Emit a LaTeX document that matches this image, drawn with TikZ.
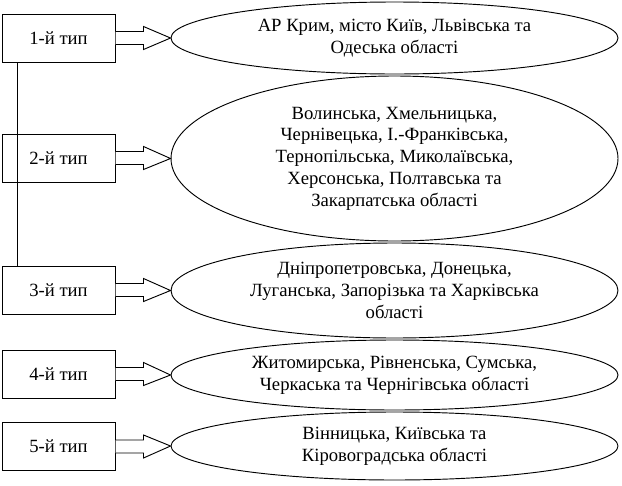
\documentclass[tikz,border=0pt]{standalone}
\usepackage{fontspec}
\setmainfont{Liberation Serif}
\usepackage{tikz}
\usetikzlibrary{calc,shapes.geometric}

\tikzset{
  typebox/.style={draw, line width=0.75pt, minimum width=113*0.75pt, minimum height=48*0.75pt, inner sep=0pt},
  regoval/.style={draw, ellipse, line width=0.7pt, inner sep=0pt, align=center, minimum width=447*0.75pt},
  blockarr/.style={draw, line width=0.7pt, fill=white}
}

\begin{document}
\begin{tikzpicture}[x=0.75pt,y=-0.75pt, font=\fontsize{14}{16.3}\selectfont]
\useasboundingbox (0,0) rectangle (622,486);
% types
\node [typebox] (t1) at (58.5,38) {1-й тип};
\node [typebox] (t2) at (58.5,158) {2-й тип};
\node [typebox] (t3) at (58.5,290) {3-й тип};
\node [typebox] (t4) at (58.5,374) {4-й тип};
\node [typebox] (t5) at (58.5,446.5) {5-й тип};
% regions
\node [regoval, minimum height=72*0.75pt] (e1) at (394.5,38) {АР Крим, місто Київ, Львівська та\\Одеська області};
\node [regoval, minimum height=165*0.75pt] (e2) at (394.5,158.5) {Волинська, Хмельницька,\\Чернівецька, І.-Франківська,\\Тернопільська, Миколаївська,\\Херсонська, Полтавська та\\Закарпатська області};
\node [regoval, minimum height=95*0.75pt] (e3) at (394.5,290.5) {Дніпропетровська, Донецька,\\Луганська, Запорізька та Харківська\\області};
\node [regoval, minimum height=70*0.75pt] (e4) at (394.5,375) {Житомирська, Рівненська, Сумська,\\Черкаська та Чернігівська області};
\node [regoval, minimum height=68*0.75pt] (e5) at (394.5,446) {Вінницька, Київська та\\Кіровоградська області};
% block arrows
\foreach \i in {1,...,5} {
  \draw [blockarr] ($(t\i.east)+(0,-6.5)$) -- ++(28,0) -- ++(0,-5) -- (e\i.west)
    -- ($(t\i.east)+(28,11.5)$) -- ++(0,-5) -- ($(t\i.east)+(0,6.5)$);
}
% link of first three
\draw [line width=0.75pt] ([xshift=16*0.75pt]t1.south west) -- ([xshift=16*0.75pt]t3.north west);
\end{tikzpicture}
\end{document}
